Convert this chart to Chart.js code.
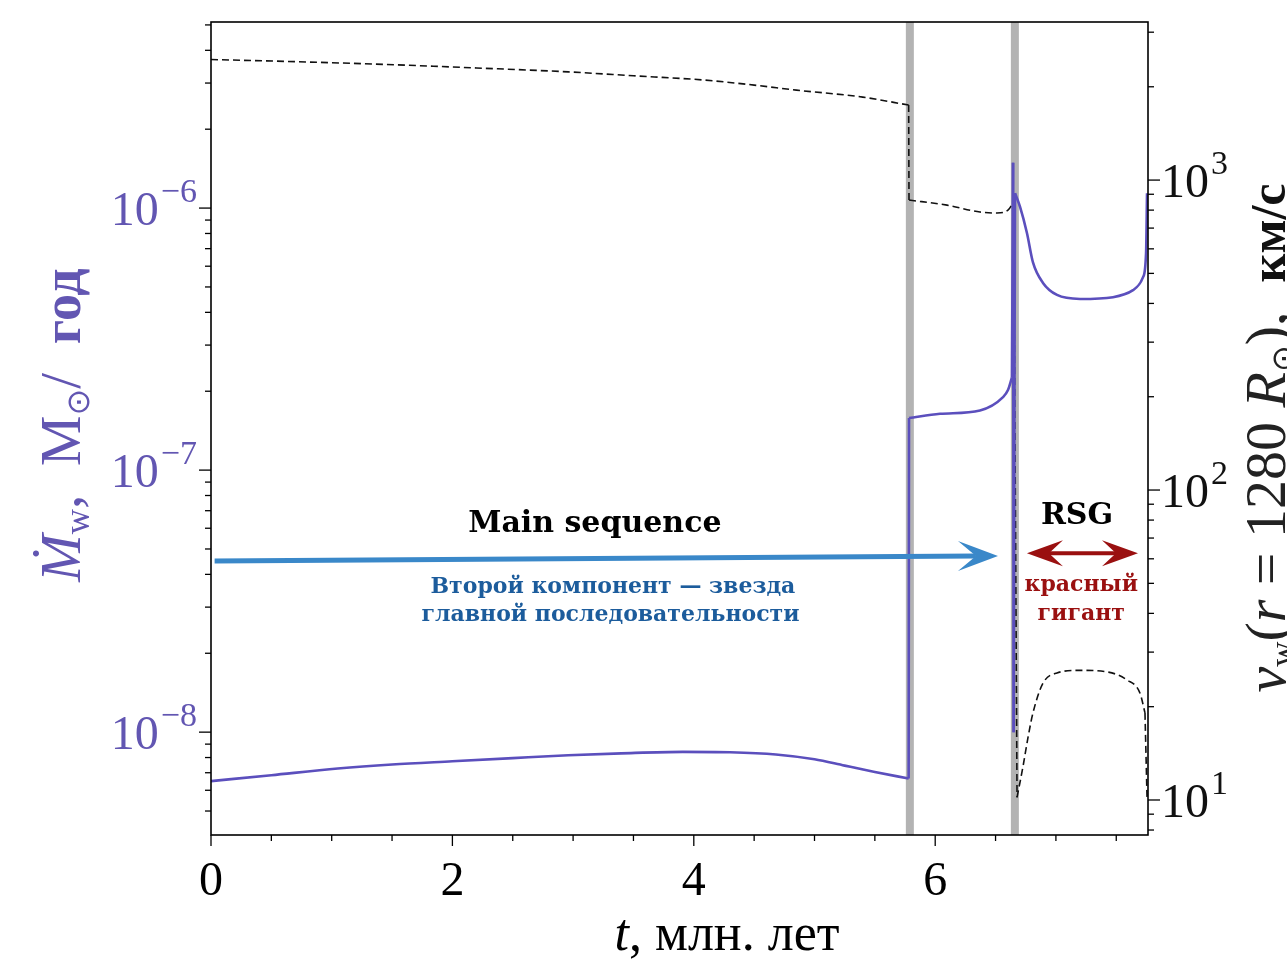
<!DOCTYPE html>
<html>
<head>
<meta charset="utf-8">
<script src="https://cdn.jsdelivr.net/npm/chart.js@4.4.1/dist/chart.umd.min.js"></script>
<style>
  html, body { margin: 0; padding: 0; background: #fff; }
  canvas { display: block; }
</style>
</head>
<body>
<canvas id="chart" width="1287" height="962"></canvas>
<script>
(() => {

    // mass-loss rate of the star, M_sun / yr, vs time (Myr); null = jump between stages
    const rateTime = [0, 0.5, 1.05, 1.5, 2.0, 2.5, 2.96, 3.4, 3.91, 4.3, 4.68, 5.0, 5.25, 5.5, 5.78, null,
        5.783, 6.04, 6.371, 6.562, 6.603, 6.636, null,
        6.645, 6.65, null,
        6.661, 6.703, 6.76, 6.81, 6.893, 7.009, 7.2, 7.473, 7.639, 7.722, 7.747, 7.755];
    const rateValues = [6.50e-9, 6.85e-9, 7.26e-9, 7.52e-9, 7.74e-9, 7.96e-9, 8.16e-9, 8.30e-9, 8.41e-9,
        8.38e-9, 8.22e-9, 7.88e-9, 7.45e-9, 7.05e-9, 6.65e-9, null,
        1.58e-7, 1.64e-7, 1.69e-7, 1.90e-7, 2.02e-7, 2.26e-7, null,
        1.49e-6, 1.0e-8, null,
        1.14e-6, 1.01e-6, 8.03e-7, 6.2e-7, 5.18e-7, 4.66e-7, 4.50e-7, 4.57e-7, 4.86e-7, 5.45e-7, 6.73e-7, 1.14e-6];

    // wind velocity at r = 1280 R_sun, km/s
    const speedTime = [0, 0.7, 1.433, 2.2, 2.96, 3.5, 4.09, 4.5, 4.85, 5.4, 5.78, null,
        5.783, 6.098, 6.371, 6.512, 6.603, 6.65, null,
        6.678, 6.727, 6.77, 6.81, 6.893, 7.009, 7.2, 7.423, 7.589, 7.697, 7.738, null,
        7.755];
    const speedValues = [2449, 2410, 2362, 2300, 2234, 2170, 2102, 2025, 1951, 1852, 1746, null,
        862, 830, 789, 783, 800, 850, null,
        10.2, 12.8, 16.0, 19.1, 23.8, 25.7, 26.2, 25.9, 24.4, 22.1, 19.1, null,
        10.2];

    // stage boundaries (grey bars), Myr
    const stageTimes = [5.79, 6.66];

    const xTicks = [0, 2, 4, 6];
    const rateDecades = [-8, -7, -6];
    const speedDecades = [1, 2, 3];

    const xRange = [0, 7.763];
    const rateRange = [4.05e-9, 5.13e-6];
    const speedRange = [7.71, 3236];

    const purple = '#5b4fbd';
    const labelPurple = '#6256b2';
    const serif = '"Liberation Serif", "DejaVu Serif", serif';

    const notes = [
        { text: 'Main sequence', t: 3.18, v: 6.2e-8, color: '#000', font: 'bold 30px "DejaVu Serif"' },
        { text: 'Второй компонент — звезда', t: 3.33, v: 3.57e-8, color: '#1c5c9c', font: 'bold 22px "DejaVu Serif"' },
        { text: 'главной последовательности', t: 3.31, v: 2.80e-8, color: '#1c5c9c', font: 'bold 22px "DejaVu Serif"' },
        { text: 'RSG', t: 7.175, v: 6.67e-8, color: '#000', font: 'bold 30px "DejaVu Serif"' },
        { text: 'красный', t: 7.21, v: 3.64e-8, color: '#9a1010', font: 'bold 22px "DejaVu Serif"' },
        { text: 'гигант', t: 7.21, v: 2.82e-8, color: '#9a1010', font: 'bold 22px "DejaVu Serif"' }
    ];

    // smooth pieces, with a gap (y: null) where the star jumps between stages
    const pairs = (xs, ys) => xs.map((x, i) => (ys[i] === null ? { x: xs[i - 1], y: null } : { x: x, y: ys[i] }));

    // straight connectors across each gap
    const jumps = (xs, ys) => {
        const out = [];
        ys.forEach((y, i) => {
            if (y !== null) return;
            out.push({ x: xs[i - 1], y: ys[i - 1] }, { x: xs[i + 1], y: ys[i + 1] }, { x: xs[i + 1], y: null });
        });
        return out;
    };

    function richText(ctx, parts, x, y, angle) {
        ctx.save();
        ctx.translate(x, y);
        ctx.rotate(angle);
        ctx.textAlign = 'left';
        ctx.textBaseline = 'alphabetic';
        let total = 0;
        parts.forEach(p => { ctx.font = p.font; p.w = ctx.measureText(p.text).width; total += p.w; });
        let cx = -total / 2;
        parts.forEach(p => {
            ctx.font = p.font;
            ctx.fillStyle = p.color;
            ctx.fillText(p.text, cx, p.dy || 0);
            cx += p.w;
        });
        ctx.restore();
    }

    function power(ctx, exp, x, y, align, color) {
        const base = '10';
        const sup = exp < 0 ? '−' + Math.abs(exp) : String(exp);
        ctx.fillStyle = color;
        ctx.textBaseline = 'alphabetic';
        ctx.textAlign = 'left';
        ctx.font = '48px ' + serif;
        const bw = ctx.measureText(base).width;
        ctx.font = '34px ' + serif;
        const sw = ctx.measureText(sup).width;
        const x0 = align === 'right' ? x - bw - sw - 2 : x;
        ctx.font = '48px ' + serif;
        ctx.fillText(base, x0, y + 17);
        ctx.font = '34px ' + serif;
        ctx.fillText(sup, x0 + bw + 2, y - 6);
    }

    function arrowHead(ctx, tipX, tipY, dir, len, half, notch) {
        ctx.beginPath();
        ctx.moveTo(tipX, tipY);
        ctx.lineTo(tipX - dir * len, tipY - half);
        ctx.lineTo(tipX - dir * notch, tipY);
        ctx.lineTo(tipX - dir * len, tipY + half);
        ctx.closePath();
        ctx.fill();
    }

    const decor = {
        id: 'decor',
        afterDatasetsDraw(chart) {
            const ctx = chart.ctx;
            const a = chart.chartArea;
            const sx = chart.scales.x, sy = chart.scales.y, sy2 = chart.scales.y2;
            ctx.save();

            // frame
            ctx.strokeStyle = '#000';
            ctx.lineWidth = 1.6;
            ctx.strokeRect(a.left, a.top, a.right - a.left, a.bottom - a.top);

            // ticks
            ctx.lineWidth = 1.3;
            for (let k = 0; k * 0.5 <= sx.max; k++) {
                const px = sx.getPixelForValue(k * 0.5);
                ctx.beginPath();
                ctx.moveTo(px, a.bottom);
                ctx.lineTo(px, a.bottom + (k % 4 === 0 ? 11 : 6));
                ctx.stroke();
            }
            const logTicks = (scale, edge, dir) => {
                const lo = Math.floor(Math.log10(scale.min)), hi = Math.ceil(Math.log10(scale.max));
                for (let e = lo; e <= hi; e++) {
                    for (let m = 1; m < 10; m++) {
                        const v = m * Math.pow(10, e);
                        if (v < scale.min || v > scale.max) continue;
                        const py = scale.getPixelForValue(v);
                        ctx.beginPath();
                        ctx.moveTo(edge, py);
                        ctx.lineTo(edge + dir * (m === 1 ? 12 : 6), py);
                        ctx.stroke();
                    }
                }
            };
            logTicks(sy, a.left, -1);
            logTicks(sy2, a.right, 1);

            // tick labels
            ctx.fillStyle = '#000';
            ctx.font = '48px ' + serif;
            ctx.textAlign = 'center';
            ctx.textBaseline = 'alphabetic';
            xTicks.forEach(v => ctx.fillText(String(v), sx.getPixelForValue(v), 895));
            rateDecades.forEach(e => power(ctx, e, a.left - 14, sy.getPixelForValue(Math.pow(10, e)), 'right', labelPurple));
            speedDecades.forEach(e => power(ctx, e, a.right + 13, sy2.getPixelForValue(Math.pow(10, e)), 'left', '#111'));

            // axis titles
            richText(ctx, [
                { text: 't', font: 'italic 52px ' + serif, color: '#000' },
                { text: ', млн. лет', font: '52px ' + serif, color: '#000' }
            ], 727, 950, 0);
            richText(ctx, [
                { text: 'Ṁ', font: 'italic 57px ' + serif, color: labelPurple },
                { text: 'w', font: '35px ' + serif, color: labelPurple, dy: 9 },
                { text: ',  M', font: '57px ' + serif, color: labelPurple },
                { text: '⊙', font: '32px "DejaVu Sans"', color: labelPurple, dy: 9 },
                { text: '/  ', font: '57px ' + serif, color: labelPurple },
                { text: 'год', font: 'bold 54px ' + serif, color: labelPurple }
            ], 80, 425, -Math.PI / 2);
            richText(ctx, [
                { text: 'v', font: 'italic 58px ' + serif, color: '#222' },
                { text: 'w', font: '35px ' + serif, color: '#222', dy: 9 },
                { text: '(', font: '58px ' + serif, color: '#222' },
                { text: 'r', font: 'italic 58px ' + serif, color: '#222' },
                { text: ' = 1280 ', font: '58px ' + serif, color: '#222' },
                { text: 'R', font: 'italic 58px ' + serif, color: '#222' },
                { text: '⊙', font: '32px "DejaVu Sans"', color: '#222', dy: 9 },
                { text: '),  ', font: '58px ' + serif, color: '#222' },
                { text: 'км/с', font: 'bold 50px ' + serif, color: '#111' }
            ], 1285, 438, -Math.PI / 2);

            // annotations
            ctx.textAlign = 'center';
            ctx.textBaseline = 'middle';
            notes.forEach(n => {
                ctx.font = n.font;
                ctx.fillStyle = n.color;
                ctx.fillText(n.text, sx.getPixelForValue(n.t), sy.getPixelForValue(n.v));
            });

            // main-sequence arrow
            const bx0 = sx.getPixelForValue(0.03), by0 = sy.getPixelForValue(4.5e-8);
            const bx1 = sx.getPixelForValue(6.52), by1 = sy.getPixelForValue(4.7e-8);
            ctx.strokeStyle = '#3a88c9';
            ctx.fillStyle = '#3a88c9';
            ctx.lineWidth = 5;
            ctx.beginPath();
            ctx.moveTo(bx0, by0);
            ctx.lineTo(bx1 - 22, by1);
            ctx.stroke();
            arrowHead(ctx, bx1, by1, 1, 40, 15, 22);

            // red giant double arrow
            const rx0 = sx.getPixelForValue(6.76), rx1 = sx.getPixelForValue(7.68), ry = sy.getPixelForValue(4.82e-8);
            ctx.strokeStyle = '#9a1010';
            ctx.fillStyle = '#9a1010';
            ctx.lineWidth = 4;
            ctx.beginPath();
            ctx.moveTo(rx0 + 20, ry);
            ctx.lineTo(rx1 - 20, ry);
            ctx.stroke();
            arrowHead(ctx, rx1, ry, 1, 36, 13, 22);
            arrowHead(ctx, rx0, ry, -1, 36, 13, 22);

            ctx.restore();
        }
    };

    const rateStyle = { yAxisID: 'y', borderColor: purple, borderWidth: 2.6, pointRadius: 0, spanGaps: false, order: 1 };
    const speedStyle = { yAxisID: 'y2', borderColor: '#111', borderWidth: 1.6, borderDash: [7, 4], pointRadius: 0, spanGaps: false, order: 2 };

    const bandSets = stageTimes.map(t => ({
        data: [{ x: t, y: rateRange[0] }, { x: t, y: rateRange[1] }],
        yAxisID: 'y',
        borderColor: '#b3b3b3',
        borderWidth: 8,
        pointRadius: 0,
        order: 3
    }));

    const ctx = document.getElementById('chart').getContext('2d');
    new Chart(ctx, {
        type: 'line',
        data: {
            datasets: [
                Object.assign({ data: pairs(rateTime, rateValues), cubicInterpolationMode: 'monotone' }, rateStyle),
                Object.assign({ data: jumps(rateTime, rateValues), tension: 0 }, rateStyle),
                Object.assign({ data: pairs(speedTime, speedValues), cubicInterpolationMode: 'monotone' }, speedStyle),
                Object.assign({ data: jumps(speedTime, speedValues), tension: 0 }, speedStyle)
            ].concat(bandSets)
        },
        options: {
            responsive: false,
            animation: false,
            layout: { padding: { top: 22, left: 0, right: 0, bottom: 0 } },
            scales: {
                x: {
                    type: 'linear', min: xRange[0], max: xRange[1],
                    grid: { display: false }, border: { display: false }, ticks: { display: false },
                    afterFit: s => { s.height = 127; }
                },
                y: {
                    type: 'logarithmic', position: 'left', min: rateRange[0], max: rateRange[1],
                    grid: { display: false }, border: { display: false }, ticks: { display: false },
                    afterFit: s => { s.width = 211; }
                },
                y2: {
                    type: 'logarithmic', position: 'right', min: speedRange[0], max: speedRange[1],
                    grid: { display: false }, border: { display: false }, ticks: { display: false },
                    afterFit: s => { s.width = 139; }
                }
            },
            plugins: { legend: { display: false }, tooltip: { enabled: false } }
        },
        plugins: [decor]
    });

})()
</script>
</body>
</html>
